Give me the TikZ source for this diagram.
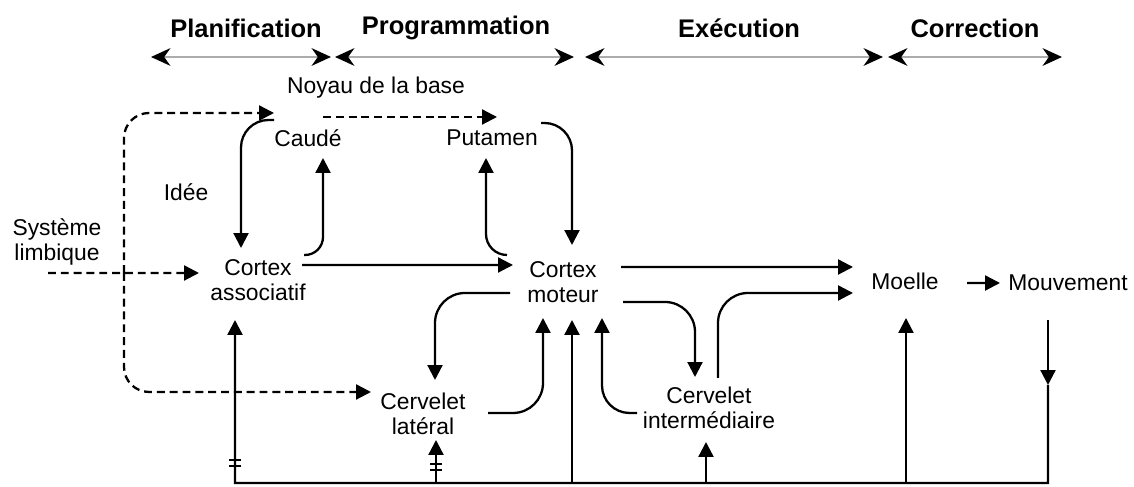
\documentclass[tikz,border=0pt]{standalone}
\usepackage{fontspec}
\setmainfont{Liberation Sans}
\usepackage{tikz}
\usetikzlibrary{arrows.meta,calc,positioning}

\tikzset{
  lbl/.style={align=center, inner sep=0pt, font=\fontsize{13}{14.2}\selectfont},
  phasetxt/.style={font=\fontsize{14.5}{16}\selectfont\bfseries},
  phase/.style={draw=gray!65, line width=1.5pt,
    arrows={Stealth[color=black,length=11pt,width=10pt,inset=3.5pt]-Stealth[color=black,length=11pt,width=10pt,inset=3.5pt]}},
  arr/.style={line width=1.3pt, -{Triangle[length=8.5pt,width=8.5pt]}},
  darr/.style={arr, dash pattern=on 4.5pt off 2.8pt},
}

\begin{document}
\begin{tikzpicture}
    \useasboundingbox (0,0) rectangle (22.68,9.74);

    % phases
    \node[phasetxt] (plan) at (4.92,9.18) {Planification};
    \node[phasetxt] (prog) at (9.12,9.18) {Programmation};
    \node[phasetxt] (exec) at (14.78,9.18) {Exécution};
    \node[phasetxt] (corr) at (19.50,9.18) {Correction};
    \foreach \a/\b in {3.02/6.62, 6.70/11.48, 11.70/17.66, 17.76/21.24}
        \draw[phase] (\a,8.60) -- (\b,8.60);

    % structures
    \node[lbl] (noyau) at (7.52,7.98) {Noyau de la base};
    \node[lbl] (caude) at (6.16,6.98) {Caudé};
    \node[lbl] (putamen) at (9.84,6.98) {Putamen};
    \node[lbl] (idee) at (3.72,5.90) {Idée};
    \node[lbl] (limbique) at (1.14,4.90) {Système\\limbique};
    \node[lbl] (assoc) at (5.16,4.14) {Cortex\\associatif};
    \node[lbl] (moteur) at (11.26,4.10) {Cortex\\moteur};
    \node[lbl] (moelle) at (18.10,4.12) {Moelle};
    \node[lbl] (mouv) at (21.36,4.08) {Mouvement};
    \node[lbl] (lateral) at (8.46,1.46) {Cervelet\\latéral};
    \node[lbl] (inter) at (14.18,1.58) {Cervelet\\intermédiaire};

    % limbic inputs (dashed)
    \coordinate (lj) at (2.48,4.28);
    \draw[darr] ($(limbique)+(-0.18,-0.62)$) -- ($(assoc)+(-1.18,0.14)$);
    \draw[darr, rounded corners=0.5cm] (lj) |- ($(caude)+(-0.68,0.50)$);
    \draw[darr, rounded corners=0.5cm] (lj) |- ($(lateral)+(-1.04,0.44)$);
    \draw[darr] ($(caude)+(0.30,0.42)$) -- ($(putamen)+(0.10,0.42)$);

    % basal ganglia loops
    \draw[arr, rounded corners=0.55cm] ($(caude)+(-0.68,0.36)$) -| ($(assoc)+(-0.34,0.64)$);
    \draw[arr, rounded corners=0.36cm] ($(assoc)+(0.92,0.50)$) -| ($(caude)+(0.30,-0.40)$);
    \draw[arr] ($(assoc)+(0.88,0.30)$) -- ($(moteur)+(-1.00,0.34)$);
    \draw[arr, rounded corners=0.42cm] ($(moteur)+(-1.12,0.54)$) -| ($(putamen)+(-0.12,-0.40)$);
    \draw[arr, rounded corners=0.55cm] ($(putamen)+(0.98,0.30)$) -| ($(moteur)+(0.18,0.74)$);

    % cerebellum loops
    \draw[arr] ($(moteur)+(1.16,0.30)$) -- ($(moelle)+(-1.04,0.28)$);
    \draw[arr, rounded corners=0.6cm] ($(moteur)+(1.20,-0.40)$) -| ($(inter)+(-0.28,0.62)$);
    \draw[arr, rounded corners=0.6cm] ($(inter)+(0.18,0.60)$) |- ($(moelle)+(-1.04,-0.24)$);
    \draw[arr, rounded corners=0.6cm] ($(moteur)+(-1.06,-0.22)$) -| ($(lateral)+(0.24,0.68)$);
    \draw[arr, rounded corners=0.6cm] ($(lateral)+(1.30,0.02)$) -| ($(moteur)+(-0.40,-0.72)$);
    \draw[arr, rounded corners=0.55cm] ($(inter)+(-1.44,-0.10)$) -| ($(moteur)+(0.78,-0.72)$);
    \draw[arr] ($(moelle)+(1.24,-0.04)$) -- ($(mouv)+(-1.36,0)$);

    % feedback
    \coordinate (fb1) at (4.70,0.08);
    \coordinate (fb2) at (8.72,0.08);
    \coordinate (fb3) at (11.44,0.08);
    \coordinate (fb4) at (14.12,0.08);
    \coordinate (fb5) at (18.12,0.08);
    \coordinate (fb6) at (20.96,0.08);
    \draw[arr] ($(mouv)+(-0.40,-0.74)$) -- ($(fb6)+(0,1.96)$);
    \draw[arr] ($(fb6)+(0,1.96)$) -- (fb6) -- (fb1) -- ($(assoc)+(-0.46,-0.80)$);
    \foreach \c/\h in {fb2/0.86, fb3/3.26, fb4/0.82, fb5/3.30}
        \draw[arr] (\c) -- ++(0,\h);
    \foreach \c/\y in {fb1/0.34, fb2/0.26}
        \draw[line width=0.8pt] ([shift={(-0.12,\y)}]\c) -- ++(0.24,0)
            ([shift={(-0.12,\y+0.12)}]\c) -- ++(0.24,0);
\end{tikzpicture}
\end{document}
